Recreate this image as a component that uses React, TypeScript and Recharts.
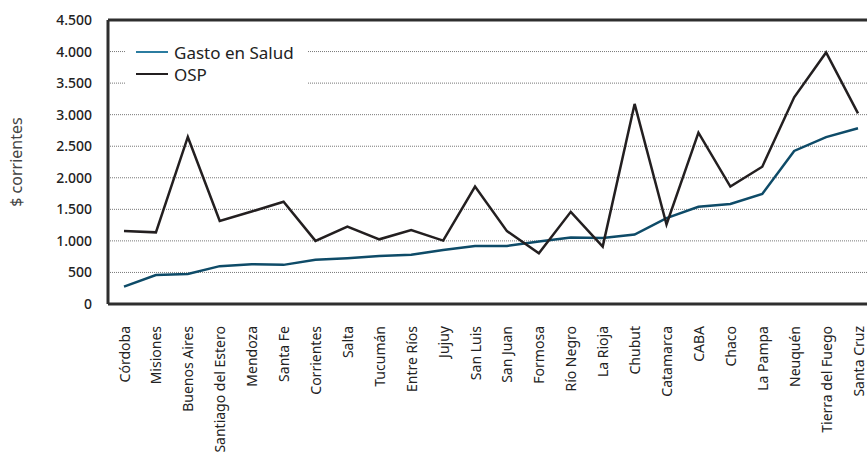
import React from "react";
import {
  CartesianGrid,
  Line,
  LineChart,
  ReferenceLine,
  XAxis,
  YAxis,
} from "recharts";

const provincias = [
  "Córdoba", "Misiones", "Buenos Aires", "Santiago del Estero", "Mendoza", "Santa Fe",
  "Corrientes", "Salta", "Tucumán", "Entre Ríos", "Jujuy", "San Luis", "San Juan",
  "Formosa", "Río Negro", "La Rioja", "Chubut", "Catamarca", "CABA", "Chaco",
  "La Pampa", "Neuquén", "Tierra del Fuego", "Santa Cruz",
];
const gastoSalud = [
  275, 460, 475, 600, 630, 620, 700, 725, 760, 780, 855, 920, 920, 990, 1055, 1045,
  1100, 1360, 1540, 1585, 1745, 2425, 2645, 2785,
];
const osp = [
  1157, 1135, 2647, 1315, 1465, 1620, 1000, 1225, 1025, 1170, 1005, 1860, 1155, 805,
  1460, 910, 3170, 1260, 2715, 1860, 2175, 3275, 3985, 3020,
];
const yTicks = [0, 500, 1000, 1500, 2000, 2500, 3000, 3500, 4000, 4500];
const legendItems = ["Gasto en Salud", "OSP"];

const FONT = "'Noto Sans', sans-serif";
const FRAME = "#2e2e2e";
const BLUE = "#0e4b68";
const BLACK = "#231f20";

const data = provincias.map((p, i) => ({ name: p, gasto: gastoSalud[i], osp: osp[i] }));

const fmt = (v: number) => v.toString().replace(/\B(?=(\d{3})+(?!\d))/g, ".");

function XTick({ x, y, payload }: any) {
  return (
    <text
      x={x}
      y={y + 14}
      transform={`rotate(-90, ${x}, ${y + 14})`}
      textAnchor="end"
      dominantBaseline="central"
      fontSize={14}
      fill="#222"
      fontFamily={FONT}
    >
      {payload.value}
    </text>
  );
}

function LegendBox() {
  const colors = ["#2b7ca0", BLACK];
  return (
    <div
      style={{
        position: "absolute",
        left: 125,
        top: 41,
        width: 182,
        height: 48,
        background: "#fff",
        paddingLeft: 11,
        boxSizing: "border-box",
        fontFamily: FONT,
      }}
    >
      {legendItems.map((label, i) => (
        <div key={label} style={{ display: "flex", alignItems: "center", height: 22 }}>
          <span style={{ width: 32, height: 2, background: colors[i], marginRight: 6 }} />
          <span style={{ fontSize: 17, color: "#222" }}>{label}</span>
        </div>
      ))}
    </div>
  );
}

export default function App() {
  return (
    <div
      style={{
        position: "fixed",
        left: 0,
        top: 0,
        width: 867,
        height: 455,
        overflow: "hidden",
        background: "#fff",
      }}
    >
      <LineChart
        width={874}
        height={455}
        data={data}
        margin={{ top: 20, right: 0, bottom: 0, left: 0 }}
        style={{ fontFamily: FONT }}
      >
        <CartesianGrid vertical={false} stroke="#777" strokeDasharray="1 1" />
        <XAxis
          dataKey="name"
          interval={0}
          height={151}
          padding={{ left: 16, right: 16 }}
          tick={<XTick />}
          tickLine={false}
          axisLine={{ stroke: FRAME, strokeWidth: 3 }}
        />
        <YAxis
          width={108}
          domain={[0, 4500]}
          ticks={yTicks}
          tickFormatter={fmt}
          tickLine={false}
          tickMargin={10}
          axisLine={{ stroke: FRAME, strokeWidth: 3 }}
          tick={{ fontSize: 14, fill: "#222", fontWeight: 500 }}
          label={{
            value: "$ corrientes",
            angle: -90,
            position: "insideLeft",
            offset: 16,
            style: { textAnchor: "middle", fontSize: 16, fill: "#444" },
          }}
        />
        <ReferenceLine y={4500} stroke={FRAME} strokeWidth={3} />
        <Line
          type="linear"
          dataKey="gasto"
          name="Gasto en Salud"
          stroke={BLUE}
          strokeWidth={2.5}
          dot={false}
          isAnimationActive={false}
        />
        <Line
          type="linear"
          dataKey="osp"
          name="OSP"
          stroke={BLACK}
          strokeWidth={2.5}
          dot={false}
          isAnimationActive={false}
        />
      </LineChart>
      <LegendBox />
    </div>
  );
}
